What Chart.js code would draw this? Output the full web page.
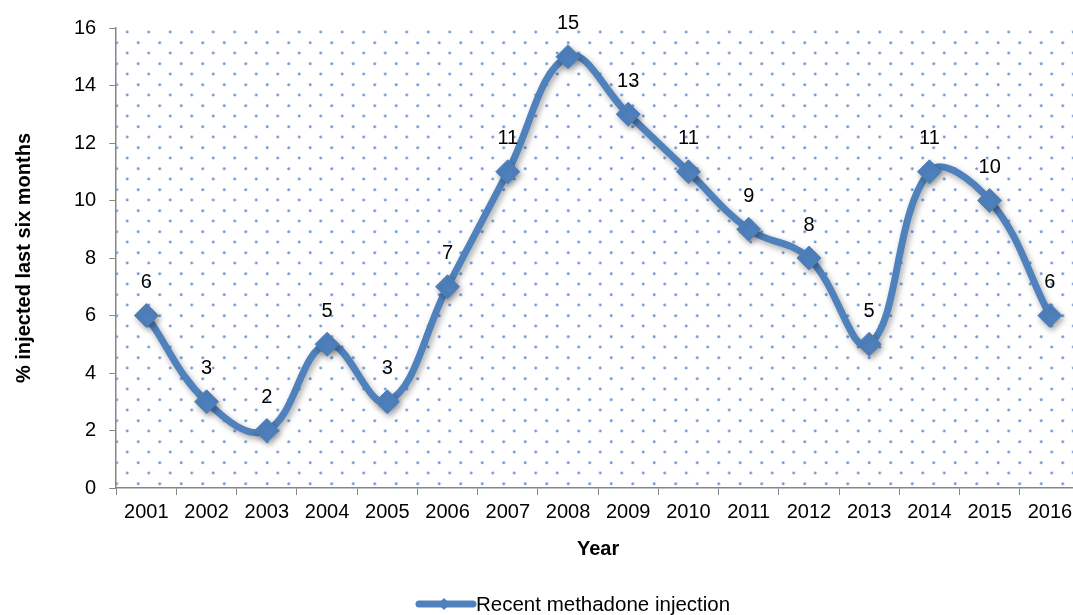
<!DOCTYPE html>
<html>
<head>
<meta charset="utf-8">
<script src="https://cdn.jsdelivr.net/npm/chart.js@4.4.0/dist/chart.umd.min.js"></script>
<style>
  html, body { margin:0; padding:0; background:#fff; overflow:hidden; }
  #wrap { position:relative; width:1073px; height:615px; overflow:hidden; }
</style>
</head>
<body>
<div id="wrap"><canvas id="chart" width="1093" height="615"></canvas></div>
<script>
/* Recent methadone injection, % injected last six months */
const years = ['2001','2002','2003','2004','2005','2006','2007','2008','2009','2010','2011','2012','2013','2014','2015','2016'];
const injected = [6, 3, 2, 5, 3, 7, 11, 15, 13, 11, 9, 8, 5, 11, 10, 6];
const yTicks = [0, 2, 4, 6, 8, 10, 12, 14, 16];

const BLUE = '#4F81BD';
const FONT = 'Arial, "Liberation Sans", sans-serif';

// dotted fill for the plot area
function dotPattern(ctx){
  const c = document.createElement('canvas');
  c.width = 43; c.height = 21.5;
  const p = c.getContext('2d');
  p.fillStyle = '#6a98d8';
  const dot = (x, y) => { p.beginPath(); p.arc(x, y, 1.4, 0, Math.PI*2); p.fill(); };
  dot(11, 4); dot(32.5, 4);
  dot(0.5, 14.75); dot(22, 14.75); dot(43.5, 14.75);
  return ctx.createPattern(c, 'repeat');
}

const plotBg = {
  id:'plotBg',
  beforeDraw(chart){
    const {ctx, chartArea:a} = chart;
    ctx.save();
    ctx.translate(a.left, a.top);
    ctx.fillStyle = dotPattern(ctx);
    ctx.fillRect(0, 0, a.right - a.left, a.bottom - a.top);
    ctx.restore();
  }
};

const lineShadow = {
  id:'lineShadow',
  beforeDatasetDraw(chart){
    const ctx = chart.ctx;
    ctx.save();
    ctx.shadowColor = 'rgba(0,0,0,0.35)';
    ctx.shadowBlur = 6;
    ctx.shadowOffsetX = 2;
    ctx.shadowOffsetY = 3;
  },
  afterDatasetDraw(chart){ chart.ctx.restore(); }
};

const valueLabels = {
  id:'valueLabels',
  afterDatasetsDraw(chart){
    const ctx = chart.ctx;
    const meta = chart.getDatasetMeta(0);
    ctx.save();
    ctx.font = '20px ' + FONT;
    ctx.fillStyle = '#000';
    ctx.textAlign = 'center';
    ctx.textBaseline = 'middle';
    meta.data.forEach((pt, i) => ctx.fillText(String(injected[i]), pt.x, pt.y - 33));
    ctx.restore();
  }
};

const bottomLegend = {
  id:'bottomLegend',
  afterDraw(chart){
    const ctx = chart.ctx;
    const label = chart.data.datasets[0].label;
    const y = 604;
    ctx.save();
    ctx.font = '20.5px ' + FONT;
    const x0 = 416, lineW = 60;
    ctx.strokeStyle = BLUE;
    ctx.lineWidth = 7;
    ctx.lineCap = 'round';
    ctx.beginPath(); ctx.moveTo(x0 + 3, y); ctx.lineTo(x0 + lineW - 3, y); ctx.stroke();
    ctx.fillStyle = BLUE;
    const cx = x0 + lineW / 2 - 2;
    ctx.beginPath();
    ctx.moveTo(cx, y - 6); ctx.lineTo(cx + 6, y); ctx.lineTo(cx, y + 6); ctx.lineTo(cx - 6, y);
    ctx.closePath(); ctx.fill();
    ctx.fillStyle = '#000';
    ctx.textBaseline = 'middle';
    ctx.textAlign = 'left';
    ctx.fillText(label, x0 + lineW, y + 1);
    ctx.restore();
  }
};

new Chart(document.getElementById('chart'), {
  type:'line',
  data:{
    labels: years,
    datasets:[{
      label:'Recent methadone injection',
      data: injected,
      borderColor: BLUE,
      backgroundColor: BLUE,
      borderWidth: 7,
      tension: 0.4,
      pointStyle: 'rectRot',
      pointRadius: 12,
      pointHoverRadius: 12,
      pointBackgroundColor: BLUE,
      pointBorderColor: BLUE,
      pointBorderWidth: 1
    }]
  },
  options:{
    responsive:false,
    animation:false,
    events:[],
    layout:{ padding:{ top:28, right:0, bottom:50, left:8 } },
    plugins:{ legend:{ display:false }, tooltip:{ enabled:false } },
    scales:{
      x:{
        offset:true,
        grid:{ offset:true, drawOnChartArea:false, drawTicks:true, tickLength:7, color:'#868686' },
        border:{ color:'#868686', width:1.5 },
        ticks:{ color:'#000', font:{ family:FONT, size:20 }, padding:5, maxRotation:0, autoSkip:false },
        title:{ display:true, text:'Year', color:'#000', font:{ family:FONT, size:20, weight:'bold' }, padding:{ top:8 } }
      },
      y:{
        min:0, max:16,
        afterBuildTicks(axis){ axis.ticks = yTicks.map(v => ({ value:v })); },
        grid:{ drawOnChartArea:false, drawTicks:true, tickLength:7, color:'#868686' },
        border:{ color:'#868686', width:1.5 },
        ticks:{ color:'#000', font:{ family:FONT, size:20 }, padding:13 },
        title:{ display:true, text:'% injected last six months', color:'#000', font:{ family:FONT, size:20, weight:'bold' }, padding:{ bottom:25 } }
      }
    }
  },
  plugins:[plotBg, lineShadow, valueLabels, bottomLegend]
});
</script>
</body>
</html>
